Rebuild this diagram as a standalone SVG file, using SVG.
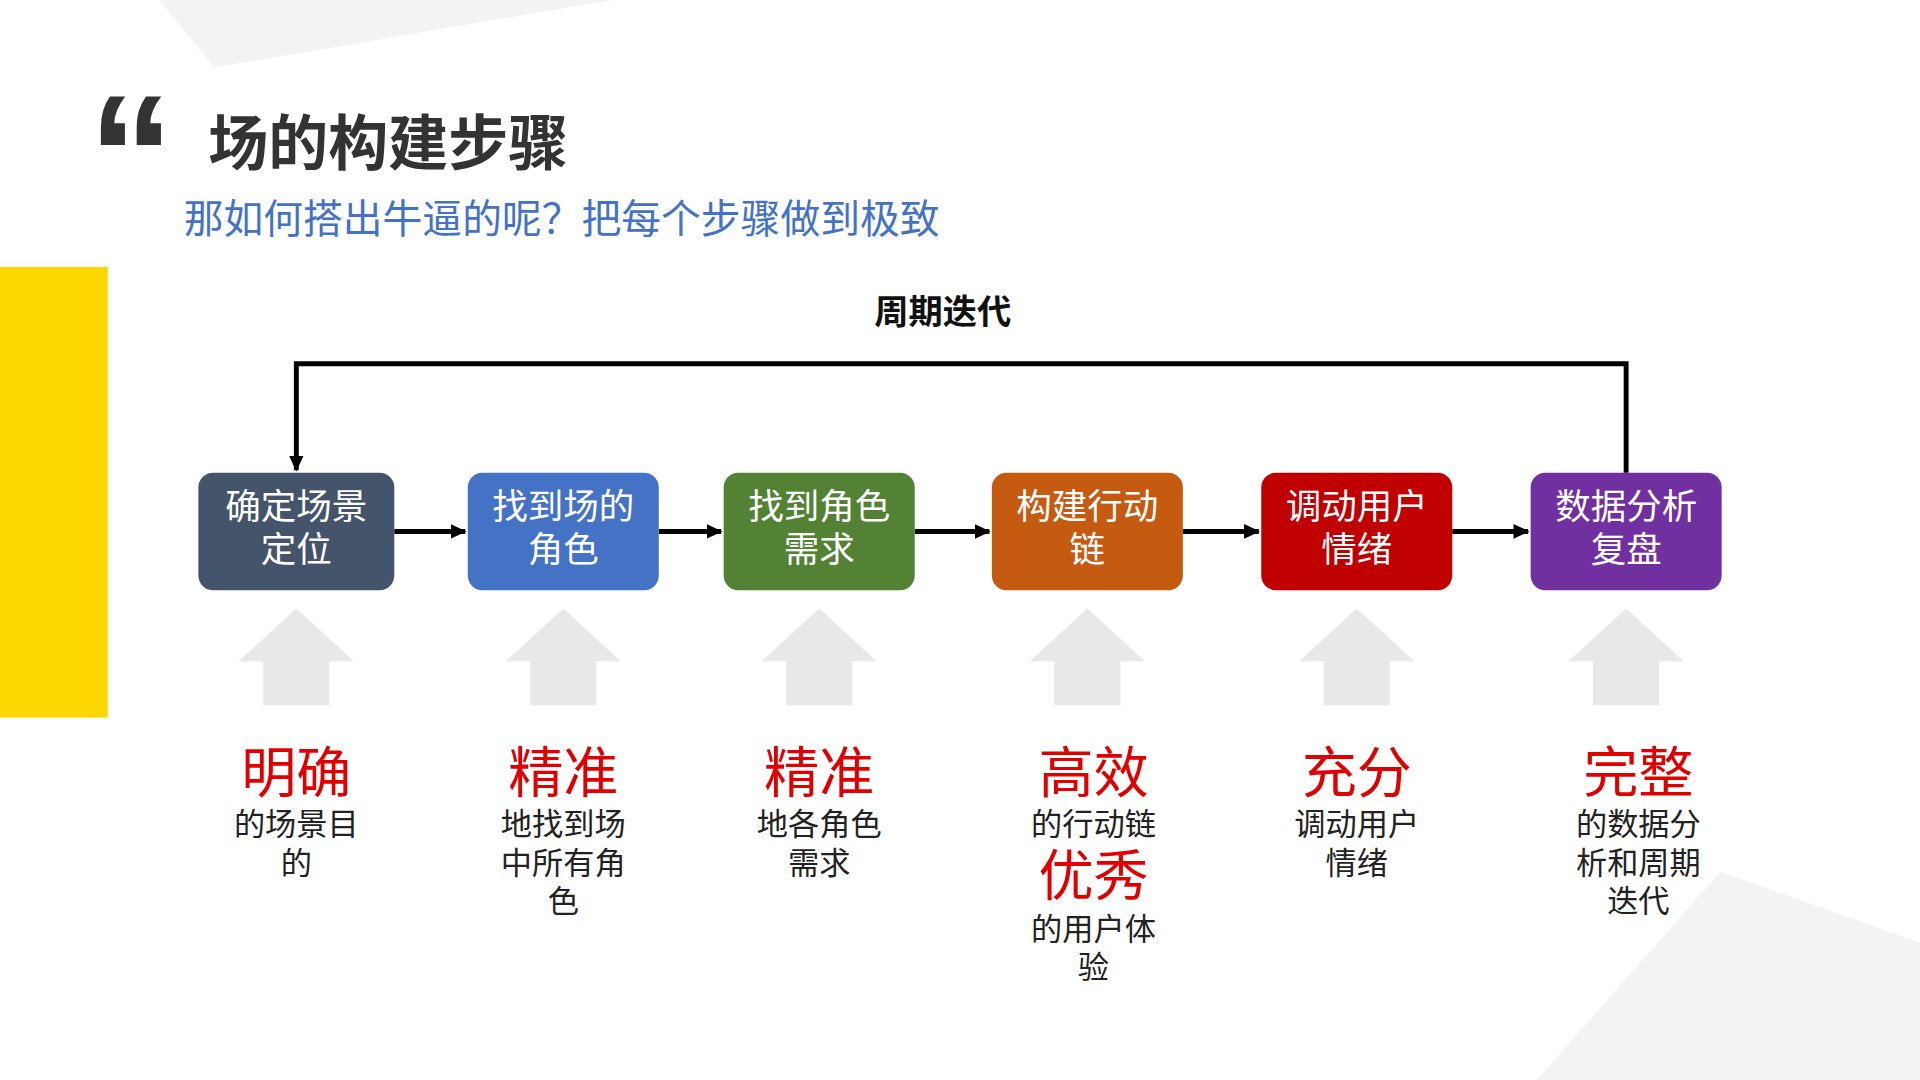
<svg xmlns="http://www.w3.org/2000/svg" width="1920" height="1080" viewBox="0 0 1920 1080">
<defs>
<style>
.f{font-family:"Liberation Sans","Noto Sans CJK SC",sans-serif}
.bt{fill:#fff;font-size:29px;text-anchor:middle}
.big{fill:#E00000;font-size:45px;text-anchor:middle}
.ds{fill:#222;font-size:25.5px;text-anchor:middle}
.con{stroke:#000;stroke-width:4;fill:none}
.up{fill:#e8e8e8}
</style>
<marker id="ah2" markerWidth="14" markerHeight="14" refX="12" refY="7" orient="auto" markerUnits="userSpaceOnUse"><path d="M0,1L13,7L0,13z" fill="#000"/></marker>
</defs>
<rect width="1920" height="1080" fill="#fff"/>
<g transform="scale(1.2245)" class="f">
<polygon points="130,0 500,0 175,55" fill="#f3f3f3"/>
<polygon points="1255,882 1405,712 1568,770 1568,882" fill="#f3f3f3"/>
<rect x="0" y="218" width="88" height="368" fill="#FFD700"/>
<text x="72" y="175" font-size="140" font-weight="bold" fill="#333" font-family="Liberation Sans,sans-serif">“</text>
<text x="170" y="135" font-size="49" font-weight="bold" fill="#333">场的构建步骤</text>
<text x="150" y="190" font-size="32.5" fill="#4472C4">那如何搭出牛逼的呢？把每个步骤做到极致</text>
<text x="770" y="265" font-size="28" font-weight="bold" text-anchor="middle" fill="#111">周期迭代</text>
<g id="connectors">
<path class="con" d="M1328,386V297H242V384" marker-end="url(#ah2)"/>
<path class="con" d="M322,434H380" marker-end="url(#ah2)"/>
<path class="con" d="M538,434H589" marker-end="url(#ah2)"/>
<path class="con" d="M747,434H808" marker-end="url(#ah2)"/>
<path class="con" d="M966,434H1028" marker-end="url(#ah2)"/>
<path class="con" d="M1186,434H1248" marker-end="url(#ah2)"/>
</g>
<g id="n1"><rect x="162" y="386" width="160" height="96" rx="12" fill="#44546A"/><text class="bt" x="242" y="424">确定场景</text><text class="bt" x="242" y="459">定位</text></g>
<g id="n2"><rect x="382" y="386" width="156" height="96" rx="12" fill="#4472C4"/><text class="bt" x="460" y="424">找到场的</text><text class="bt" x="460" y="459">角色</text></g>
<g id="n3"><rect x="591" y="386" width="156" height="96" rx="12" fill="#548235"/><text class="bt" x="669" y="424">找到角色</text><text class="bt" x="669" y="459">需求</text></g>
<g id="n4"><rect x="810" y="386" width="156" height="96" rx="12" fill="#C55A11"/><text class="bt" x="888" y="424">构建行动</text><text class="bt" x="888" y="459">链</text></g>
<g id="n5"><rect x="1030" y="386" width="156" height="96" rx="12" fill="#C00000"/><text class="bt" x="1108" y="424">调动用户</text><text class="bt" x="1108" y="459">情绪</text></g>
<g id="n6"><rect x="1250" y="386" width="156" height="96" rx="12" fill="#7030A0"/><text class="bt" x="1328" y="424">数据分析</text><text class="bt" x="1328" y="459">复盘</text></g>
<g id="ups" class="up">
<polygon points="242,497 289,540 269,540 269,576 215,576 215,540 195,540"/>
<polygon points="460,497 507,540 487,540 487,576 433,576 433,540 413,540"/>
<polygon points="669,497 716,540 696,540 696,576 642,576 642,540 622,540"/>
<polygon points="888,497 935,540 915,540 915,576 861,576 861,540 841,540"/>
<polygon points="1108,497 1155,540 1135,540 1135,576 1081,576 1081,540 1061,540"/>
<polygon points="1328,497 1375,540 1355,540 1355,576 1301,576 1301,540 1281,540"/>
</g>
<g id="t1"><text class="big" x="242" y="647">明确</text><text class="ds" x="242" y="682">的场景目</text><text class="ds" x="242" y="714">的</text></g>
<g id="t2"><text class="big" x="460" y="647">精准</text><text class="ds" x="460" y="682">地找到场</text><text class="ds" x="460" y="714">中所有角</text><text class="ds" x="460" y="745">色</text></g>
<g id="t3"><text class="big" x="669" y="647">精准</text><text class="ds" x="669" y="682">地各角色</text><text class="ds" x="669" y="714">需求</text></g>
<g id="t4"><text class="big" x="893" y="647">高效</text><text class="ds" x="893" y="682">的行动链</text><text class="big" x="893" y="731">优秀</text><text class="ds" x="893" y="768">的用户体</text><text class="ds" x="893" y="799">验</text></g>
<g id="t5"><text class="big" x="1108" y="647">充分</text><text class="ds" x="1108" y="682">调动用户</text><text class="ds" x="1108" y="714">情绪</text></g>
<g id="t6"><text class="big" x="1338" y="647">完整</text><text class="ds" x="1338" y="682">的数据分</text><text class="ds" x="1338" y="714">析和周期</text><text class="ds" x="1338" y="745">迭代</text></g>
</g>
</svg>
